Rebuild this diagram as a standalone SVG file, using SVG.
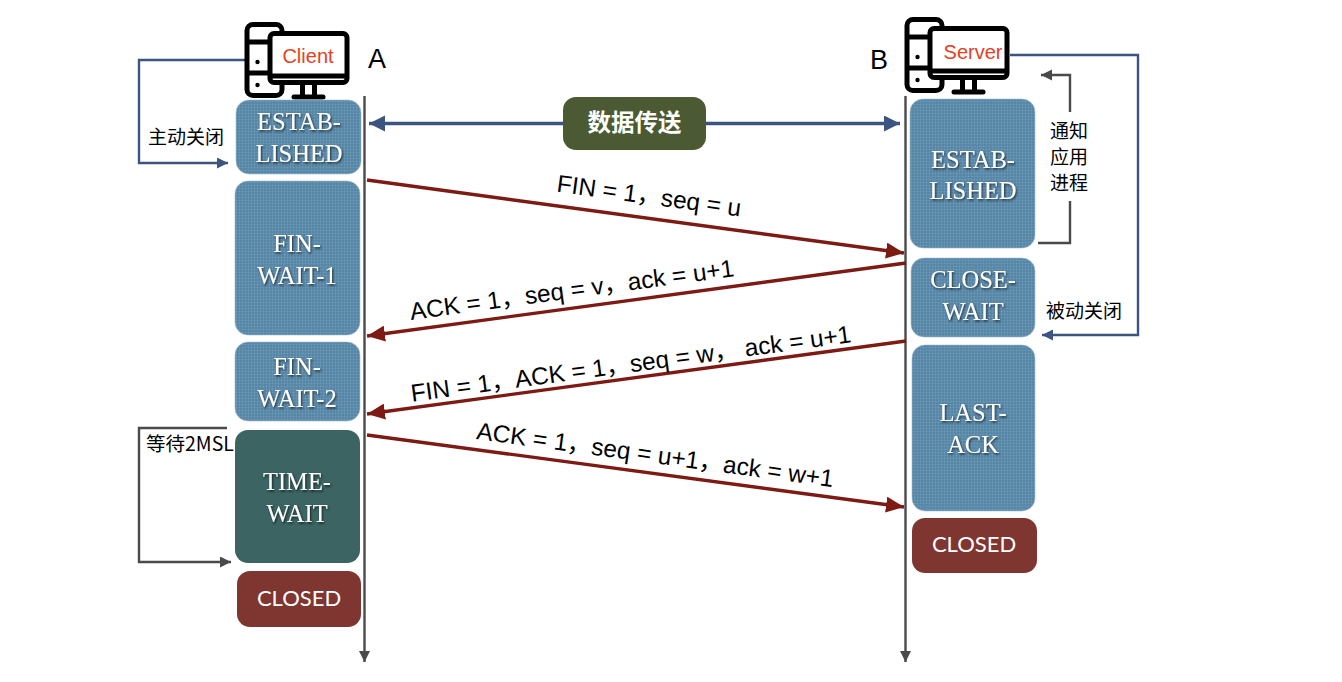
<svg xmlns="http://www.w3.org/2000/svg" width="1342" height="682" viewBox="0 0 1342 682">
<style>
.st{font-family:"Liberation Serif",serif;font-size:24.5px;fill:#fff;text-anchor:middle;filter:url(#ts)}
.cl{font-family:"Lato","Open Sans",sans-serif;font-size:22px;fill:#fff;text-anchor:middle}
.lb{font-family:"Liberation Sans","Noto Sans CJK SC",sans-serif;font-size:27px;fill:#000}
.sm{font-family:"Noto Sans CJK SC",sans-serif;font-size:19px;fill:#000}
.red{font-family:"Liberation Sans",sans-serif;font-size:20px;fill:#e8401f;text-anchor:middle}
.ms{font-family:"Liberation Sans","Noto Sans CJK SC",sans-serif;font-size:24.4px;fill:#000;text-anchor:middle}
.blue{fill:url(#tx);stroke:#9fbccf;stroke-width:.6}
.msg{stroke:#7d1a14;stroke-width:3.4;fill:none;marker-end:url(#mr)}
.life{stroke:#4a4a4a;stroke-width:2.4;fill:none;marker-end:url(#mg)}
.nb{stroke:#3b5480;stroke-width:2.4;fill:none;marker-end:url(#mb)}
.gr{stroke:#4a4a4a;stroke-width:2.4;fill:none}
.ga{marker-end:url(#mg)}
.ic{fill:#fff;stroke:#000;stroke-width:5;stroke-linejoin:round}
.il{stroke:#000;stroke-width:5;fill:none}
</style>
<defs>
<filter id="ts" x="-10%" y="-10%" width="120%" height="130%"><feDropShadow dx="1" dy="1.5" stdDeviation="0.8" flood-color="#000" flood-opacity=".7"/></filter>
<pattern id="tx" width="3" height="3" patternUnits="userSpaceOnUse"><rect width="3" height="3" fill="#5f8dac"/><circle cx="1" cy="1" r=".8" fill="#4f7e9e"/><circle cx="2.5" cy="2.5" r=".5" fill="#76a0ba"/></pattern>
<marker id="mr" markerUnits="userSpaceOnUse" markerWidth="20" markerHeight="16" refX="18" refY="8" orient="auto"><path d="M0 0L18 8L0 16z" fill="#7d1a14"/></marker>
<marker id="mg" markerUnits="userSpaceOnUse" markerWidth="12" markerHeight="12" refX="11" refY="5.500" orient="auto"><path d="M0 0L11 5.500L0 11z" fill="#4a4a4a"/></marker>
<marker id="mb" markerUnits="userSpaceOnUse" markerWidth="12" markerHeight="12" refX="11" refY="5.500" orient="auto"><path d="M0 0L11 5.500L0 11z" fill="#3b5480"/></marker>
<marker id="mB" markerUnits="userSpaceOnUse" markerWidth="18" markerHeight="18" refX="16" refY="8" orient="auto-start-reverse"><path d="M0 0L16 8L0 16z" fill="#3b5480"/></marker>
<g id="ico">
<rect class="ic" x="0" y="0" width="35" height="71" rx="6"/>
<path class="il" d="M0 17.500H26M0 48.500H26"/>
<circle cx="10.500" cy="37.500" r="2.200"/><circle cx="10.500" cy="60.500" r="2.200"/>
<rect class="ic" x="23" y="9" width="77" height="49" rx="4"/>
<path class="il" d="M23 51.500H100"/>
<path class="il" d="M55.500 59V72M67.500 59V72"/>
<path class="il" d="M47 72.500H76" stroke-linecap="round"/>
</g>
</defs>

<g id="connectors">
<path class="life" d="M364.500 96V662"/>
<path class="life" d="M905.500 96V662"/>
<path d="M369 123.500H900" stroke="#3b5480" stroke-width="3.400" fill="none" marker-start="url(#mB)" marker-end="url(#mB)"/>
<path class="msg" d="M367 180L904 253"/>
<path class="msg" d="M906 263L367 336"/>
<path class="msg" d="M906 341L367 414"/>
<path class="msg" d="M367 435L904 507"/>
<path class="nb" d="M246 60H139V163H228"/>
<path class="nb" d="M1010 55H1138V335H1042"/>
<path class="gr ga" d="M1070 112V75H1041"/>
<path class="gr" d="M1038 243H1070V201"/>
<path class="gr ga" d="M227 428H139V562H231"/>
</g>

<g id="client-icon"><use href="#ico" x="247" y="24.500"/><text class="red" x="308" y="63">Client</text></g>
<g id="server-icon"><use href="#ico" x="907" y="19.500"/><text class="red" x="973" y="59">Server</text></g>
<g id="label-a"><text class="lb" x="368" y="68">A</text></g>
<g id="label-b"><text class="lb" x="870" y="69">B</text></g>

<g id="a-established"><rect class="blue" x="236" y="100" width="125" height="74" rx="13"/><text class="st" x="299" y="130">ESTAB-</text><text class="st" x="299" y="162">LISHED</text></g>
<g id="a-fin-wait-1"><rect class="blue" x="235" y="181" width="125" height="154" rx="13"/><text class="st" x="297" y="252">FIN-</text><text class="st" x="297" y="284">WAIT-1</text></g>
<g id="a-fin-wait-2"><rect class="blue" x="235" y="342" width="125" height="79" rx="13"/><text class="st" x="297" y="375">FIN-</text><text class="st" x="297" y="407">WAIT-2</text></g>
<g id="a-time-wait"><rect x="235" y="430" width="125" height="133" rx="13" fill="#3b6463"/><text class="st" x="297" y="490">TIME-</text><text class="st" x="297" y="522">WAIT</text></g>
<g id="a-closed"><rect x="237" y="571" width="124" height="56" rx="13" fill="#7f3530"/><text class="cl" x="299" y="606">CLOSED</text></g>

<g id="b-established"><rect class="blue" x="910" y="99" width="125" height="149" rx="13"/><text class="st" x="973" y="168">ESTAB-</text><text class="st" x="973" y="199">LISHED</text></g>
<g id="b-close-wait"><rect class="blue" x="911" y="258" width="124" height="79" rx="13"/><text class="st" x="973" y="288">CLOSE-</text><text class="st" x="973" y="320">WAIT</text></g>
<g id="b-last-ack"><rect class="blue" x="912" y="345" width="123" height="166" rx="13"/><text class="st" x="973" y="421">LAST-</text><text class="st" x="973" y="453">ACK</text></g>
<g id="b-closed"><rect x="912" y="518" width="125" height="55" rx="13" fill="#7f3530"/><text class="cl" x="974" y="552">CLOSED</text></g>

<g id="data-transfer"><rect x="563" y="97" width="143" height="53" rx="13" fill="#4b5a33"/><text x="634.500" y="131" font-family="Noto Sans CJK SC,sans-serif" font-size="23.500" font-weight="700" fill="#fff" text-anchor="middle">数据传送</text></g>

<g id="labels">
<text class="sm" x="148" y="144">主动关闭</text>
<text class="sm" x="146" y="451" style="font-size:19.500px">等待2MSL</text>
<text class="sm" x="1046" y="318">被动关闭</text>
<text class="sm" x="1050" y="138">通知</text>
<text class="sm" x="1050" y="164">应用</text>
<text class="sm" x="1050" y="190">进程</text>
<text class="ms" transform="translate(648 204) rotate(7.700)">FIN = 1，seq = u</text>
<text class="ms" transform="translate(573 298) rotate(-7.700)">ACK = 1，seq = v，ack = u+1</text>
<text class="ms" transform="translate(632 372) rotate(-7.700)">FIN = 1，ACK = 1，seq = w， ack = u+1</text>
<text class="ms" transform="translate(654 463) rotate(7.700)">ACK = 1，seq = u+1，ack = w+1</text>
</g>
</svg>
